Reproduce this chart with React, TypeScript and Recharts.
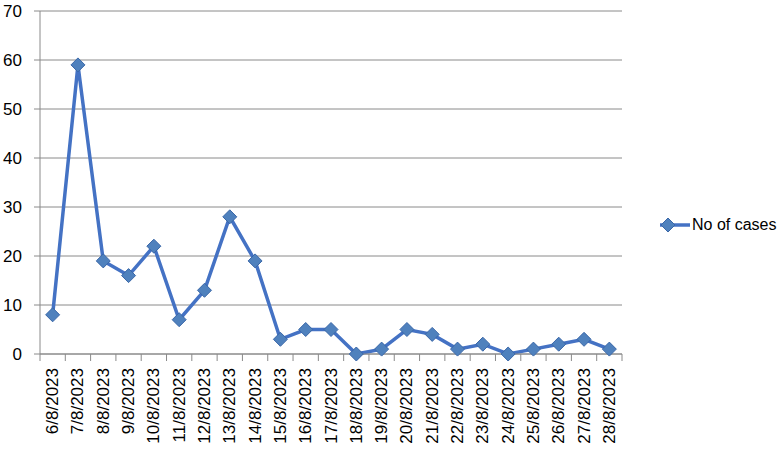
import React from "react";
import { LineChart, Line, XAxis, YAxis, CartesianGrid } from "recharts";

const dates = [
  "6/8/2023", "7/8/2023", "8/8/2023", "9/8/2023", "10/8/2023", "11/8/2023",
  "12/8/2023", "13/8/2023", "14/8/2023", "15/8/2023", "16/8/2023", "17/8/2023",
  "18/8/2023", "19/8/2023", "20/8/2023", "21/8/2023", "22/8/2023", "23/8/2023",
  "24/8/2023", "25/8/2023", "26/8/2023", "27/8/2023", "28/8/2023",
];
const cases = [8, 59, 19, 16, 22, 7, 13, 28, 19, 3, 5, 5, 0, 1, 5, 4, 1, 2, 0, 1, 2, 3, 1];
const yTicks = [0, 10, 20, 30, 40, 50, 60, 70];
const seriesName = "No of cases";

const data = dates.map((d, i) => ({ date: d, cases: cases[i] }));

const W = 780;
const H = 450;
const MARGIN = { top: 11, right: 158, bottom: 0, left: 0 };
const Y_W = 40;
const X_H = 96;
const PLOT_W = W - MARGIN.left - MARGIN.right - Y_W;
const FONT = "'Liberation Sans', Arial, sans-serif";
const GRID = "#8a8a8a";
const LINE = "#4472c4";
const FILL = "#4f81bd";
const EDGE = "#3a67a8";

const XTick = (props: any) => {
  const { x, y, payload, index } = props;
  const bw = PLOT_W / dates.length;
  const ty = y + 14;
  return (
    <g>
      <line x1={x - bw / 2} x2={x - bw / 2} y1={y} y2={y + 7} stroke={GRID} strokeWidth={1} />
      {index === dates.length - 1 && (
        <line x1={x + bw / 2} x2={x + bw / 2} y1={y} y2={y + 7} stroke={GRID} strokeWidth={1} />
      )}
      <text
        x={x}
        y={ty}
        transform={`rotate(-90, ${x}, ${ty})`}
        textAnchor="end"
        dominantBaseline="central"
        fontFamily={FONT}
        fontSize={17}
        fill="#000"
      >
        {payload.value}
      </text>
    </g>
  );
};

const Diamond = (props: any) => {
  const { cx, cy } = props;
  if (cx == null || cy == null) return null;
  const r = 7;
  return (
    <path
      d={`M${cx},${cy - r} L${cx + r},${cy} L${cx},${cy + r} L${cx - r},${cy} Z`}
      fill={FILL}
      stroke={EDGE}
      strokeWidth={1}
    />
  );
};

const LegendBox = () => (
  <div
    style={{
      position: "absolute",
      left: 660,
      top: 216,
      display: "flex",
      alignItems: "center",
      fontFamily: FONT,
      fontSize: 16,
      color: "#000",
    }}
  >
    <svg width={31} height={16} style={{ marginRight: 1 }}>
      <line x1={0} x2={30} y1={8} y2={8} stroke={LINE} strokeWidth={3.5} />
      <path d="M8,1 L15,8 L8,15 L1,8 Z" fill={FILL} stroke={EDGE} strokeWidth={1} />
    </svg>
    <span>{seriesName}</span>
  </div>
);

export default function App() {
  return (
    <div style={{ position: "absolute", left: 0, top: 0, width: W, height: H, background: "#fff" }}>
      <LineChart width={W} height={H} data={data} margin={MARGIN}>
        <CartesianGrid vertical={false} stroke={GRID} strokeWidth={1} />
        <XAxis
          dataKey="date"
          scale="band"
          interval={0}
          height={X_H}
          tickSize={0}
          tickMargin={0}
          tickLine={false}
          axisLine={{ stroke: GRID, strokeWidth: 1 }}
          tick={<XTick />}
        />
        <YAxis
          width={Y_W}
          domain={[0, 70]}
          ticks={yTicks}
          interval={0}
          tickSize={6}
          tickMargin={12}
          tickLine={{ stroke: GRID }}
          axisLine={{ stroke: GRID, strokeWidth: 1 }}
          tick={{ fontFamily: FONT, fontSize: 17, fill: "#000" }}
        />
        <Line
          type="linear"
          dataKey="cases"
          name={seriesName}
          stroke={LINE}
          strokeWidth={3.5}
          dot={<Diamond />}
          activeDot={false}
          isAnimationActive={false}
        />
      </LineChart>
      <LegendBox />
    </div>
  );
}
